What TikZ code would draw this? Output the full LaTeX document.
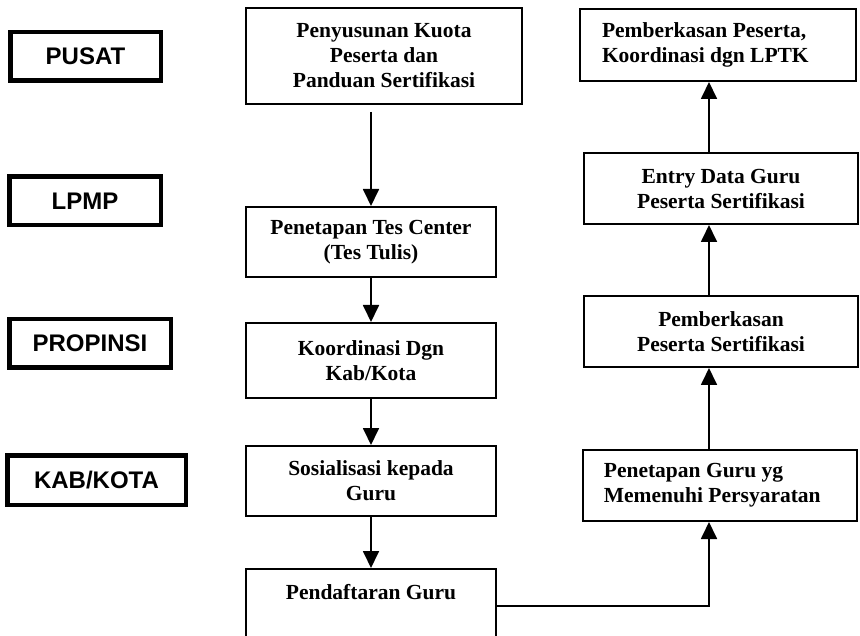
\documentclass[tikz,border=0pt]{standalone}
\usepackage{fontspec}
\setmainfont{Liberation Serif}
\newfontfamily\labelfont{Liberation Sans}
\usetikzlibrary{arrows.meta}

\begin{document}
\begin{tikzpicture}[x = 1pt, y = -1pt,
	level/.style = {draw, rectangle, line width = 4.5pt, minimum height = 48.5pt, inner sep = 0pt, font = \labelfont\bfseries\fontsize{24}{28}\selectfont},
	stepbox/.style = {draw, rectangle, line width = 1.8pt, align = center, font = \bfseries\fontsize{21.5}{25}\selectfont},
	leftbox/.style = {stepbox, align = flush left, text width = 232pt, inner xsep = 22pt},
	flow/.style = {line width = 1.8pt, -{Triangle[width = 16pt, length = 17pt]}}]

\useasboundingbox (0,0) rectangle (860,636);

% levels on the left
\node[level, minimum width = 150.5pt] (Pusat) at (85.5, 56.5) {PUSAT};
\node[level, minimum width = 151.5pt] (Lpmp) at (85, 201) {LPMP};
\node[level, minimum width = 161.5pt] (Propinsi) at (90, 343.5) {PROPINSI};
\node[level, minimum width = 178.5pt, minimum height = 49.5pt] (Kab) at (96.5, 480) {KAB/KOTA};

% middle column
\node[stepbox, minimum width = 276.2pt, minimum height = 96.2pt] (Kuota) at (384, 56) {Penyusunan Kuota\\Peserta dan\\Panduan Sertifikasi};
\node[stepbox, minimum width = 250.2pt, minimum height = 70.2pt] (Tes) at (371, 242) {Penetapan Tes Center\\(Tes Tulis)};
\node[stepbox, minimum width = 250.2pt, minimum height = 75.2pt] (Koord) at (371, 360.5) {Koordinasi Dgn\\Kab/Kota};
\node[stepbox, minimum width = 250.2pt, minimum height = 70.2pt] (Sosial) at (371, 481) {Sosialisasi kepada\\Guru};
\node[stepbox, minimum width = 250.2pt, minimum height = 70.2pt] (Daftar) at (371, 604) {Pendaftaran Guru\\~};

% right column
\node[leftbox, minimum width = 276.2pt, minimum height = 72.2pt] (Lptk) at (718, 45) {Pemberkasan Peserta,\\Koordinasi dgn LPTK};
\node[stepbox, minimum width = 274.2pt, minimum height = 71.2pt] (Entry) at (721, 188.5) {Entry Data Guru\\Peserta Sertifikasi};
\node[stepbox, minimum width = 274.2pt, minimum height = 71.2pt] (Berkas) at (721, 331.5) {Pemberkasan\\Peserta Sertifikasi};
\node[leftbox, minimum width = 274.2pt, minimum height = 71.2pt, inner xsep = 21pt, text width = 232.2pt] (Syarat) at (720, 485.5) {Penetapan Guru yg\\Memenuhi Persyaratan};

\coordinate (rise) at (709, 0);
\coordinate (turn) at (709, 606);

% arrows down
\draw[flow, shorten < = 7pt] (Kuota.south -| Tes) -- (Tes.north);
\draw[flow] (Tes.south) -- (Koord.north);
\draw[flow] (Koord.south) -- (Sosial.north);
\draw[flow] (Sosial.south) -- (Daftar.north);

% arrows up
\draw[flow] (Daftar.east |- turn) -| (rise |- Syarat.south);
\draw[flow] (rise |- Syarat.north) -- (rise |- Berkas.south);
\draw[flow] (rise |- Berkas.north) -- (rise |- Entry.south);
\draw[flow] (rise |- Entry.north) -- (rise |- Lptk.south);

\end{tikzpicture}
\end{document}
